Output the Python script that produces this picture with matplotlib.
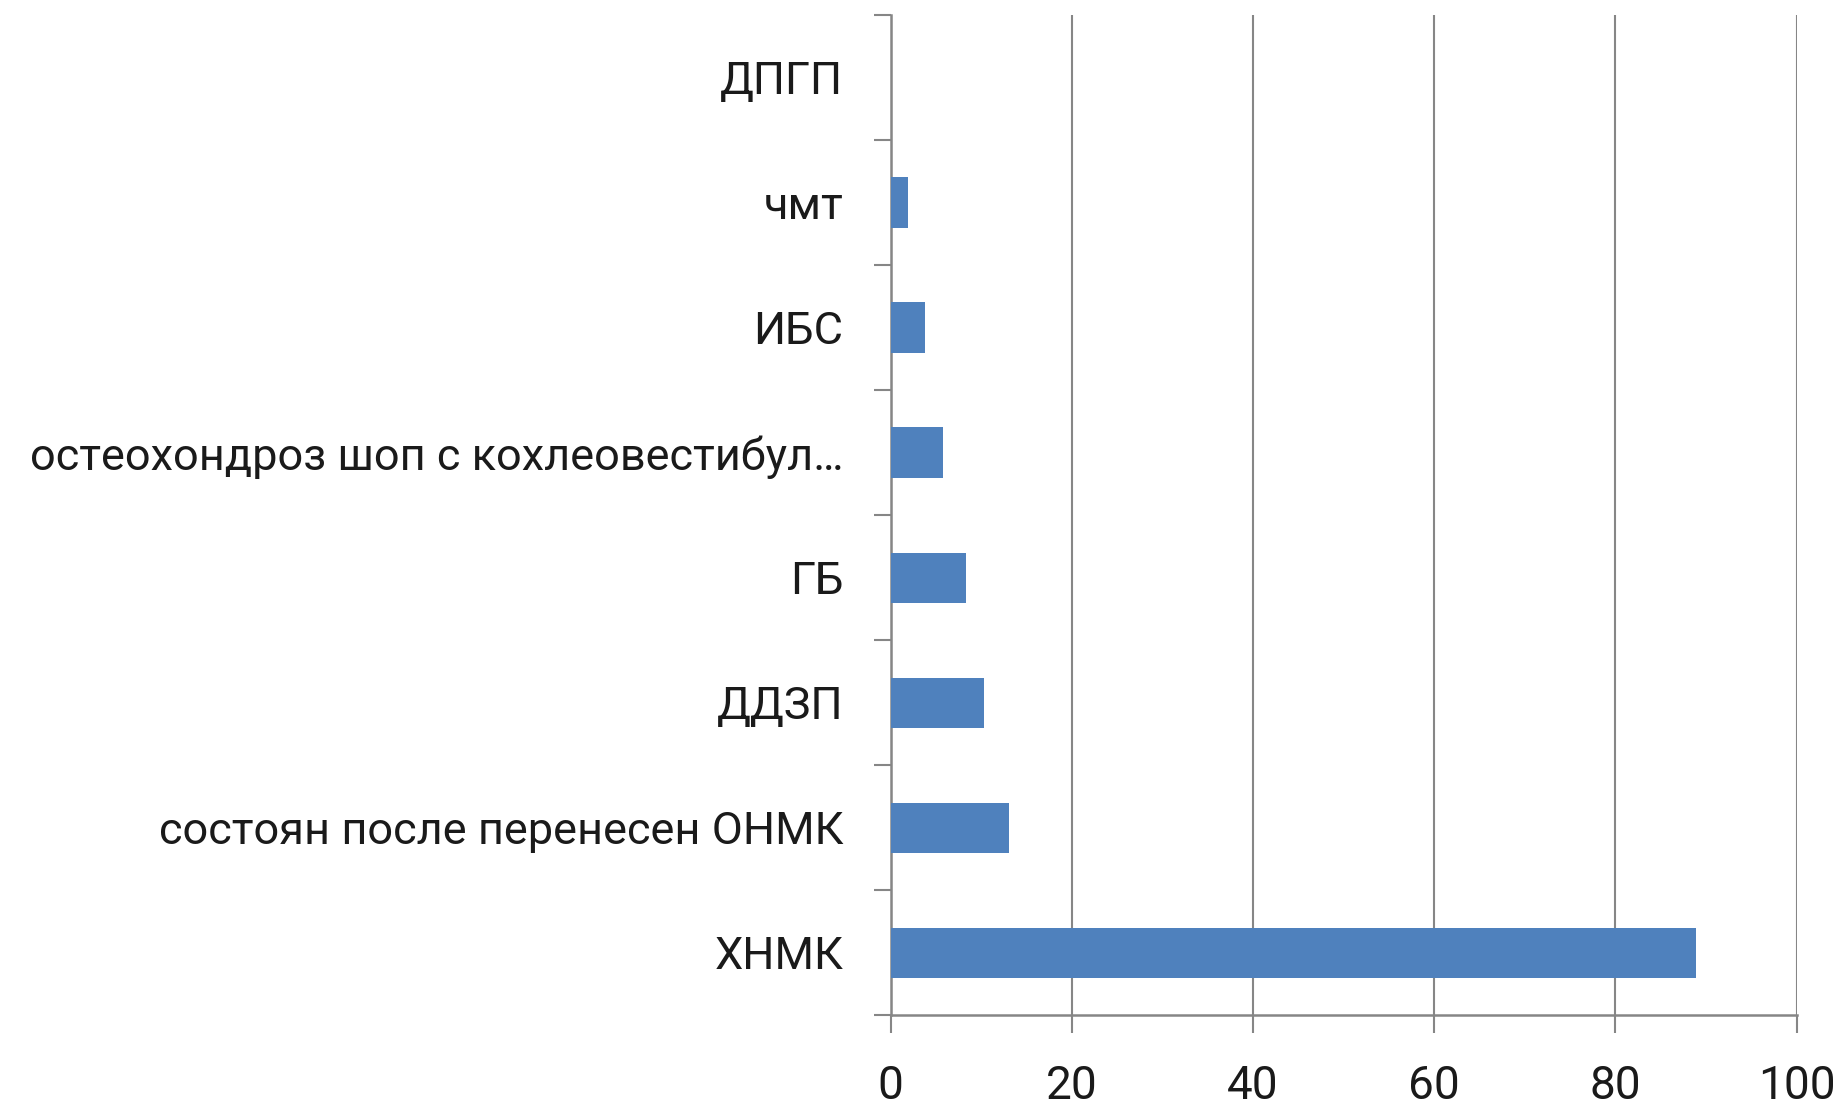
import matplotlib
matplotlib.use("Agg")
import matplotlib.pyplot as plt
import numpy as np

plt.rcParams['font.family'] = ['Roboto', 'DejaVu Sans']

categories = [
    "ХНМК",
    "состоян после перенесен ОНМК",
    "ДДЗП",
    "ГБ",
    "остеохондроз шоп с кохлеовестибул…",
    "ИБС",
    "чмт",
    "ДПГП",
]
values = [88.9, 13.1, 10.3, 8.3, 5.8, 3.8, 1.9, 0.0]
xticks = [0, 20, 40, 60, 80, 100]

W, H = 1842, 1108
fig = plt.figure(figsize=(W / 100, H / 100), dpi=100)
ax = fig.add_axes([890.5 / W, 93 / H, (1796.7 - 890.5) / W, 1000 / H])

axis_gray = "#868686"
y = np.arange(len(categories))
ax.barh(y, values, height=0.4, color="#4F81BD", edgecolor="none", zorder=3)

ax.set_xlim(0, 100)
ax.set_ylim(-0.5, len(categories) - 0.5)
ax.set_xticks(xticks)
ax.set_xticklabels([str(t) for t in xticks])
ax.xaxis.grid(True, color=axis_gray, linewidth=1.5, zorder=0)
ax.set_axisbelow(True)

# category labels at bar centers, tick marks at category boundaries
ax.set_yticks(y)
ax.set_yticklabels(categories)
ax.set_yticks(np.arange(-0.5, len(categories), 1.0), minor=True)
ax.tick_params(axis="y", which="major", length=0, pad=34, labelsize=32.5)
ax.tick_params(axis="y", which="minor", length=12, width=1.5, color=axis_gray, direction="out")
ax.tick_params(axis="x", which="major", length=13, width=1.5, color=axis_gray, direction="out",
               pad=22, labelsize=33)

for side in ("top", "right"):
    ax.spines[side].set_visible(False)
for side in ("left", "bottom"):
    ax.spines[side].set_color(axis_gray)
    ax.spines[side].set_linewidth(1.8)

for lbl in ax.get_yticklabels() + ax.get_xticklabels():
    lbl.set_color("#1a1a1a")

fig.savefig("out.png", dpi=100, facecolor="white")
